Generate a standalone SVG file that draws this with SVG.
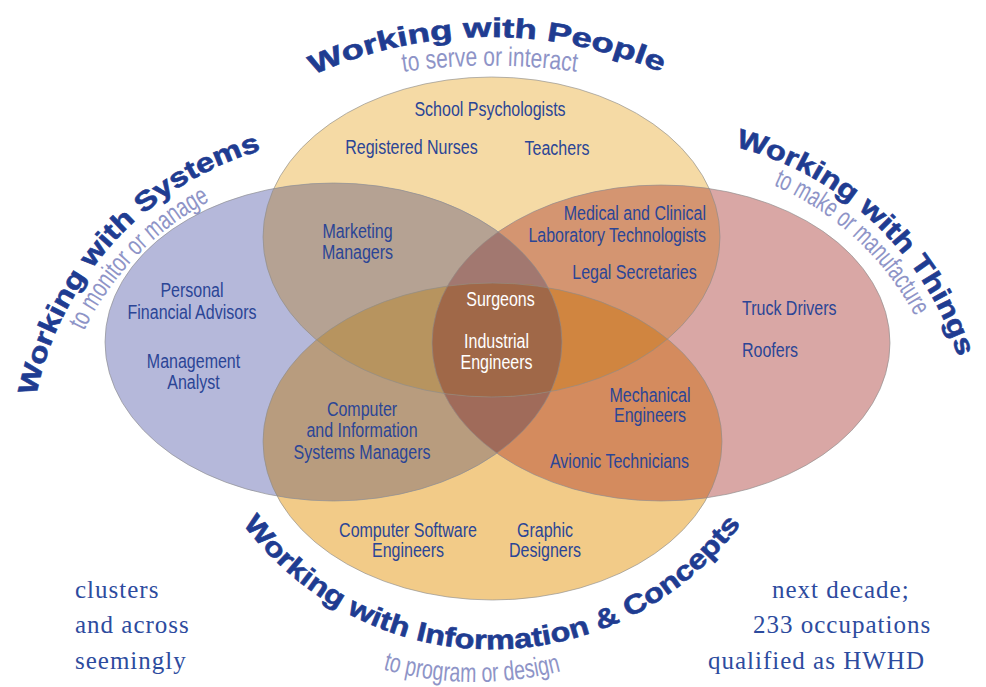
<svg xmlns="http://www.w3.org/2000/svg" xmlns:xlink="http://www.w3.org/1999/xlink" width="986" height="687" viewBox="0 0 986 687">
<style>
.lb{font-family:"Liberation Sans",Arial,sans-serif;font-size:20px;fill:#2B4596;text-anchor:middle}
.lbw{font-family:"Liberation Sans",Arial,sans-serif;font-size:20px;fill:#FFFFFF;text-anchor:middle}
.ttl{font-family:"Liberation Sans",Arial,sans-serif;font-size:27px;font-weight:bold;fill:#1F3C91;stroke:#1F3C91;stroke-width:0.6}
.sub{font-family:"Liberation Sans",Arial,sans-serif;font-size:27px;fill:#8E94C7}
.body{font-family:"Liberation Serif","Times New Roman",serif;font-size:25px;letter-spacing:1px;fill:#2D4B9E}
.edge{fill:none;stroke:#8c8c8c;stroke-width:0.8;stroke-opacity:0.8}
</style>
<defs>
<ellipse id="eT" cx="491.5" cy="237" rx="228.5" ry="160"/>
<ellipse id="eB" cx="492.5" cy="441.5" rx="229.5" ry="158.5"/>
<ellipse id="eL" cx="333.5" cy="342" rx="228.5" ry="159"/>
<ellipse id="eR" cx="661" cy="343" rx="229" ry="158"/>
<clipPath id="cT"><use href="#eT"/></clipPath>
<clipPath id="cB"><use href="#eB"/></clipPath>
<clipPath id="cL"><use href="#eL"/></clipPath>
<clipPath id="cR"><use href="#eR"/></clipPath>
<path id="pTop" d="M 313.3 74.9 A 431 431 0 0 1 665.3 74.3"/>
<path id="pTopS" d="M 403 72 A 600 600 0 0 1 577 72"/>
<path id="pL" d="M 36 396 A 322 322 0 0 1 263 150"/>
<path id="pLS" d="M 84 331 A 294 294 0 0 1 210 201"/>
<path id="pR" d="M 735.1 146.8 A 316 316 0 0 1 959 360"/>
<path id="pRS" d="M 773.4 185.2 A 292 292 0 0 1 916.3 318.6"/>
<path id="pB" d="M 243 524 A 310 310 0 0 0 738 528"/>
<path id="pBS" d="M 383 669.4 A 342 342 0 0 0 563 670.5"/>
</defs>
<rect width="986" height="687" fill="#FFFFFF"/>

<g id="circles">
  <use href="#eT" fill="#F5DAA5"/>
  <use href="#eB" fill="#F2CB88"/>
  <use href="#eL" fill="#B5B8DA"/>
  <use href="#eR" fill="#D9A7A5"/>
  <use href="#eT" clip-path="url(#cL)" fill="#B5A293"/>
  <use href="#eT" clip-path="url(#cR)" fill="#D49571"/>
  <use href="#eB" clip-path="url(#cL)" fill="#B89C7E"/>
  <use href="#eB" clip-path="url(#cR)" fill="#D48B5E"/>
  <g clip-path="url(#cL)"><use href="#eT" clip-path="url(#cR)" fill="#A27870"/></g>
  <g clip-path="url(#cL)"><use href="#eB" clip-path="url(#cR)" fill="#A06B5A"/></g>
  <g clip-path="url(#cL)"><use href="#eT" clip-path="url(#cB)" fill="#B7945F"/></g>
  <g clip-path="url(#cR)"><use href="#eT" clip-path="url(#cB)" fill="#D08540"/></g>
  <g clip-path="url(#cL)"><g clip-path="url(#cR)"><use href="#eT" clip-path="url(#cB)" fill="#A06848"/></g></g>
  <use href="#eT" class="edge"/>
  <use href="#eB" class="edge"/>
  <use href="#eL" class="edge"/>
  <use href="#eR" class="edge"/>
</g>

<g id="connectors"></g>

<g id="title-people">
  <text class="ttl"><textPath href="#pTop" textLength="358" lengthAdjust="spacingAndGlyphs">Working with People</textPath></text>
  <text class="sub"><textPath href="#pTopS" textLength="174" lengthAdjust="spacingAndGlyphs">to serve or interact</textPath></text>
</g>
<g id="title-systems">
  <text class="ttl"><textPath href="#pL" textLength="350" lengthAdjust="spacingAndGlyphs">Working with Systems</textPath></text>
  <text class="sub"><textPath href="#pLS" textLength="184" lengthAdjust="spacingAndGlyphs">to monitor or manage</textPath></text>
</g>
<g id="title-things">
  <text class="ttl"><textPath href="#pR" textLength="320" lengthAdjust="spacingAndGlyphs">Working with Things</textPath></text>
  <text class="sub"><textPath href="#pRS" textLength="197" lengthAdjust="spacingAndGlyphs">to make or manufacture</textPath></text>
</g>
<g id="title-information">
  <text class="ttl"><textPath href="#pB" textLength="578" lengthAdjust="spacingAndGlyphs">Working with Information &amp; Concepts</textPath></text>
  <text class="sub"><textPath href="#pBS" textLength="180" lengthAdjust="spacingAndGlyphs">to program or design</textPath></text>
</g>

<g id="node-school-psychologists"><text class="lb" transform="translate(490 116) scale(.8 1)">School Psychologists</text></g>
<g id="node-registered-nurses"><text class="lb" transform="translate(411.5 154) scale(.8 1)">Registered Nurses</text></g>
<g id="node-teachers"><text class="lb" transform="translate(557 155) scale(.8 1)">Teachers</text></g>
<g id="node-marketing-managers"><text class="lb" transform="translate(357.5 238) scale(.8 1)"><tspan x="0">Marketing</tspan><tspan x="0" dy="21">Managers</tspan></text></g>
<g id="node-medical-lab"><text class="lb" style="text-anchor:end" transform="translate(706 220) scale(.8 1)"><tspan x="0">Medical and Clinical</tspan><tspan x="0" dy="22">Laboratory Technologists</tspan></text></g>
<g id="node-legal-secretaries"><text class="lb" transform="translate(634.5 279) scale(.8 1)">Legal Secretaries</text></g>
<g id="node-surgeons"><text class="lbw" transform="translate(500.5 306) scale(.8 1)">Surgeons</text></g>
<g id="node-industrial-engineers"><text class="lbw" transform="translate(496.5 348) scale(.8 1)"><tspan x="0">Industrial</tspan><tspan x="0" dy="21">Engineers</tspan></text></g>
<g id="node-financial-advisors"><text class="lb" transform="translate(192 297) scale(.8 1)"><tspan x="0">Personal</tspan><tspan x="0" dy="22">Financial Advisors</tspan></text></g>
<g id="node-management-analyst"><text class="lb" transform="translate(193.5 368) scale(.8 1)"><tspan x="0">Management</tspan><tspan x="0" dy="21">Analyst</tspan></text></g>
<g id="node-truck-drivers"><text class="lb" style="text-anchor:start" transform="translate(742 315) scale(.8 1)">Truck Drivers</text></g>
<g id="node-roofers"><text class="lb" style="text-anchor:start" transform="translate(742 357) scale(.8 1)">Roofers</text></g>
<g id="node-mechanical-engineers"><text class="lb" transform="translate(650 402) scale(.8 1)"><tspan x="0">Mechanical</tspan><tspan x="0" dy="20">Engineers</tspan></text></g>
<g id="node-avionic-technicians"><text class="lb" transform="translate(619.5 468) scale(.8 1)">Avionic Technicians</text></g>
<g id="node-cis-managers"><text class="lb" transform="translate(362 416) scale(.8 1)"><tspan x="0">Computer</tspan><tspan x="0" dy="21.5">and Information</tspan><tspan x="0" dy="21.5">Systems Managers</tspan></text></g>
<g id="node-software-engineers"><text class="lb" transform="translate(408 537) scale(.8 1)"><tspan x="0">Computer Software</tspan><tspan x="0" dy="20">Engineers</tspan></text></g>
<g id="node-graphic-designers"><text class="lb" transform="translate(545 537) scale(.8 1)"><tspan x="0">Graphic</tspan><tspan x="0" dy="20">Designers</tspan></text></g>

<g id="body-text-left">
  <text class="body" x="75" y="598">clusters</text>
  <text class="body" x="75" y="633">and across</text>
  <text class="body" x="75" y="669">seemingly</text>
</g>
<g id="body-text-right">
  <text class="body" x="772" y="598">next decade;</text>
  <text class="body" x="753" y="633">233 occupations</text>
  <text class="body" x="708" y="669">qualified as HWHD</text>
</g>
</svg>
